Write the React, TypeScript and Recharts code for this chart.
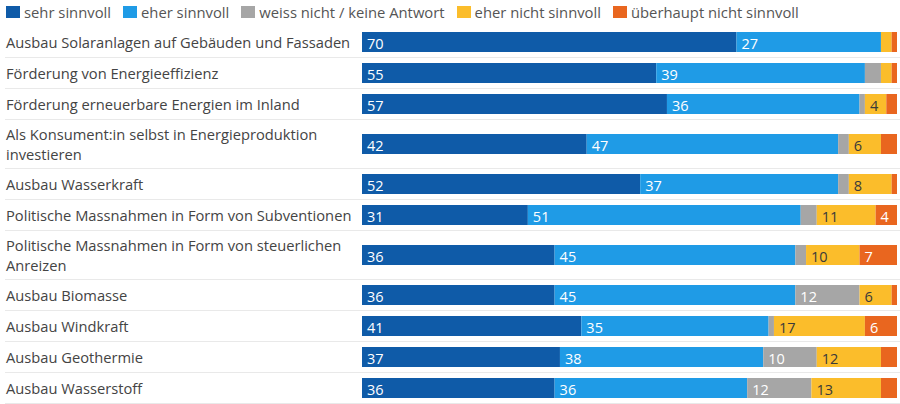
import React from 'react';
import { BarChart, Bar, XAxis, YAxis, LabelList } from 'recharts';

const categories = [
  'Ausbau Solaranlagen auf Gebäuden und Fassaden',
  'Förderung von Energieeffizienz',
  'Förderung erneuerbare Energien im Inland',
  'Als Konsument:in selbst in Energieproduktion\ninvestieren',
  'Ausbau Wasserkraft',
  'Politische Massnahmen in Form von Subventionen',
  'Politische Massnahmen in Form von steuerlichen\nAnreizen',
  'Ausbau Biomasse',
  'Ausbau Windkraft',
  'Ausbau Geothermie',
  'Ausbau Wasserstoff',
];

const sehrSinnvoll = [70, 55, 57, 42, 52, 31, 36, 36, 41, 37, 36];
const eherSinnvoll = [27, 39, 36, 47, 37, 51, 45, 45, 35, 38, 36];
const weissNicht = [0, 3, 1, 2, 2, 3, 2, 12, 1, 10, 12];
const eherNichtSinnvoll = [2, 2, 4, 6, 8, 11, 10, 6, 17, 12, 13];
const ueberhauptNichtSinnvoll = [1, 1, 2, 3, 1, 4, 7, 1, 6, 3, 3];

const seriesNames = [
  'sehr sinnvoll',
  'eher sinnvoll',
  'weiss nicht / keine Antwort',
  'eher nicht sinnvoll',
  'überhaupt nicht sinnvoll',
];

const FONT = '"Open Sans", "Noto Sans", sans-serif';

const series = [
  { key: 's1', name: seriesNames[0], values: sehrSinnvoll, color: '#0f5ba8', text: '#ffffff' },
  { key: 's2', name: seriesNames[1], values: eherSinnvoll, color: '#1f9be6', text: '#ffffff' },
  { key: 's3', name: seriesNames[2], values: weissNicht, color: '#a6a6a6', text: '#ffffff' },
  { key: 's4', name: seriesNames[3], values: eherNichtSinnvoll, color: '#fbbd2b', text: '#3a3a3a' },
  { key: 's5', name: seriesNames[4], values: ueberhauptNichtSinnvoll, color: '#e9661f', text: '#ffffff' },
];

const rows = categories.map((name, i) => {
  const r: any = { name };
  series.forEach((s) => {
    r[s.key] = s.values[i];
  });
  return r;
});

const CatTick = (props: any) => {
  const { y, payload } = props;
  const lines = String(payload.value).split('\n');
  const lh = 20;
  const start = y - ((lines.length - 1) * lh) / 2;
  return (
    <g>
      {lines.map((l, i) => (
        <text
          key={i}
          x={6}
          y={start + i * lh}
          dominantBaseline="central"
          textAnchor="start"
          fill="#444"
          fontSize={14.7}
          fontFamily={FONT}
        >
          {l}
        </text>
      ))}
    </g>
  );
};

const makeLabel = (color: string) => (props: any) => {
  const { x, y, height, value } = props;
  if (value == null || value < 4) return null;
  return (
    <text
      x={x + 5}
      y={y + height / 2 + 1}
      dominantBaseline="central"
      textAnchor="start"
      fill={color}
      fontSize={14.5}
      fontFamily={FONT}
    >
      {value}
    </text>
  );
};

const Legend = () => (
  <div
    style={{
      position: 'absolute',
      left: 6,
      top: 0,
      height: 27,
      display: 'flex',
      alignItems: 'center',
      fontFamily: FONT,
      fontSize: 14.8,
      color: '#555',
      whiteSpace: 'nowrap',
    }}
  >
    {series.map((s) => (
      <div key={s.key} style={{ display: 'flex', alignItems: 'center', marginRight: 12, marginTop: -4 }}>
        <span style={{ display: 'inline-block', width: 14, height: 12, background: s.color, marginRight: 4 }} />
        <span>{s.name}</span>
      </div>
    ))}
  </div>
);

export default function App() {
  return (
    <div
      style={{
        position: 'absolute',
        left: 0,
        top: 0,
        width: 900,
        height: 404,
        background: '#fff',
        overflow: 'hidden',
      }}
    >
      <Legend />
      <div style={{ position: 'absolute', left: 0, top: 27, width: 900 }}>
        {rows.map((row, i) => {
          const h = String(row.name).includes('\n') ? 49 : 31;
          return (
            <div key={i} style={{ position: 'relative', height: h }}>
              <BarChart
                width={900}
                height={h - 1}
                data={[row]}
                layout="vertical"
                margin={{ top: 0, right: 3, bottom: 0, left: 0 }}
                barSize={20}
              >
                <XAxis type="number" domain={[0, 100]} hide />
                <YAxis
                  type="category"
                  dataKey="name"
                  width={362}
                  axisLine={false}
                  tickLine={false}
                  tick={<CatTick />}
                />
                {series.map((s) => (
                  <Bar
                    key={s.key}
                    dataKey={s.key}
                    name={s.name}
                    stackId="a"
                    fill={s.color}
                    isAnimationActive={false}
                  >
                    <LabelList dataKey={s.key} content={makeLabel(s.text)} />
                  </Bar>
                ))}
              </BarChart>
              <div
                style={{
                  position: 'absolute',
                  left: 5,
                  right: 0,
                  bottom: 0,
                  height: 1,
                  background: '#e9e9e9',
                }}
              />
            </div>
          );
        })}
      </div>
    </div>
  );
}
